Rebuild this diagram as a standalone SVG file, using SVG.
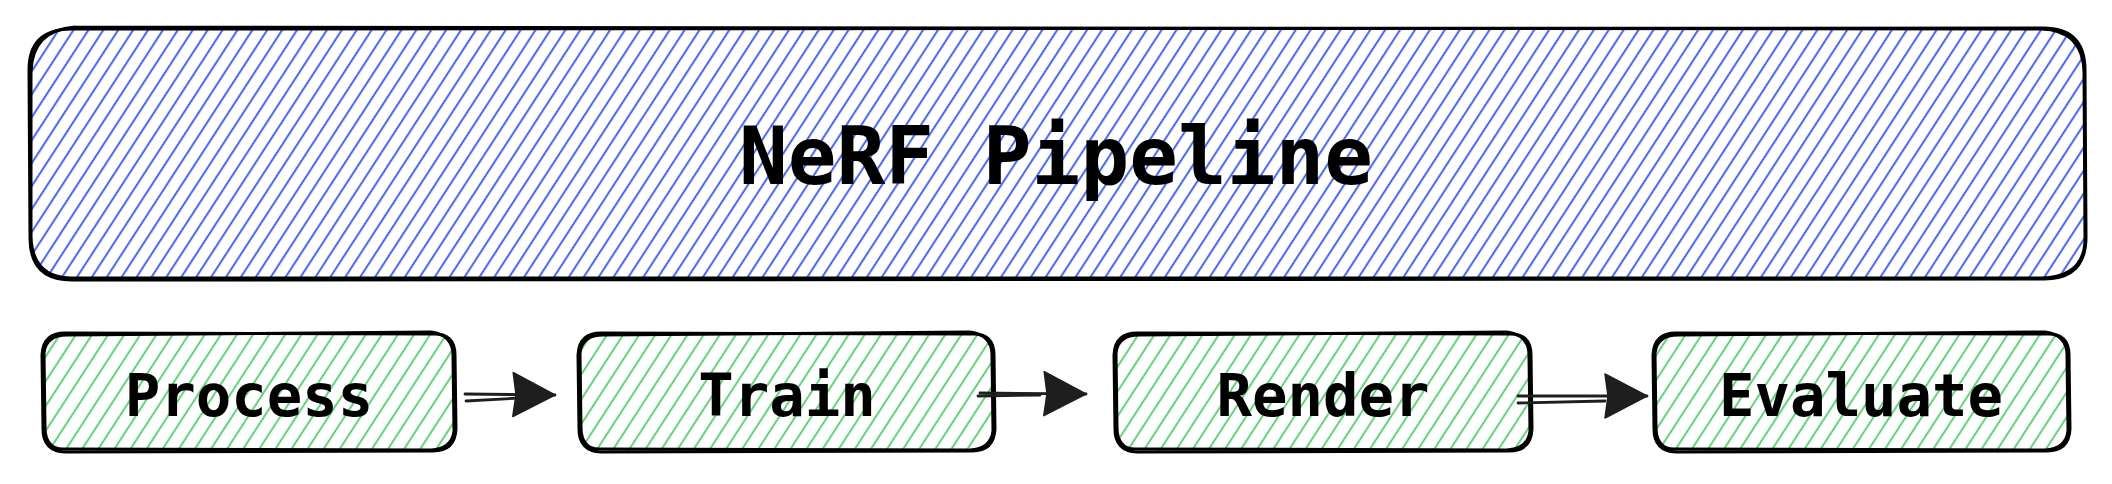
<svg xmlns="http://www.w3.org/2000/svg" width="2112" height="484" viewBox="0 0 2112 484">
<defs>
<pattern id="blueHatch" patternUnits="userSpaceOnUse" width="12.5" height="12.5" patternTransform="rotate(33)">
<line x1="3" y1="-1" x2="3" y2="14" stroke="#4466ee" stroke-width="2"/>
</pattern>
<pattern id="greenHatch" patternUnits="userSpaceOnUse" width="13.5" height="13.5" patternTransform="rotate(33)">
<line x1="3" y1="-1" x2="3" y2="15" stroke="#5cd070" stroke-width="1.9"/>
</pattern>
<marker id="head" markerUnits="userSpaceOnUse" markerWidth="48" markerHeight="50" refX="43" refY="23" orient="auto">
<path d="M1,1 L43,23 L1,45 L4,23 Z" fill="#1e1e1e" stroke="#1e1e1e" stroke-width="1.5" stroke-linejoin="round"/>
</marker>
</defs>
<style>
.edge{fill:none;stroke:#000;stroke-width:3;stroke-linecap:round;stroke-linejoin:round}
.blue{fill:url(#blueHatch)}
.green{fill:url(#greenHatch)}
.t{font-family:"DejaVu Sans Mono","Liberation Mono",monospace;font-weight:bold;fill:#000;text-anchor:middle}
.big{font-size:81px}
.small{font-size:59px}
.line{fill:none;stroke:#1e1e1e;stroke-width:2.8;stroke-linecap:round}
</style>
<rect width="2112" height="484" fill="#ffffff"/>
<g id="nerf-pipeline">
<rect class="blue" x="30" y="29" width="2055" height="250" rx="42"/>
<path class="edge" d="M72,29 L2043,28 Q2085,28 2085,70 L2086,237 Q2086,279 2044,279 L72,280 Q30,280 30,238 L29,70 Q29,29 72,29 Z"/>
<path class="edge" d="M75,27 L2041,29 Q2083,30 2084,72 L2085,240 Q2084,277 2042,278 L70,278 Q32,277 31,236 L31,72 Q32,30 75,27"/>
<text class="t big" x="1056" y="184">NeRF Pipeline</text>
</g>
<g id="process">
<rect class="green" x="43" y="333" width="412" height="118" rx="22"/>
<path class="edge" d="M65,333 L433,334 Q455,333 455,355 L456,429 Q455,451 433,451 L65,452 Q43,451 43,429 L42,355 Q43,333 65,333 Z"/>
<path class="edge" d="M67,335 L431,332 Q454,335 453,357 L454,431 Q452,449 431,450 L63,449 Q45,449 45,427 L44,353 Q46,335 67,335 Z"/>
<text class="t small" x="249" y="416">Process</text>
</g>
<g id="train">
<rect class="green" x="579" y="333" width="415" height="118" rx="22"/>
<path class="edge" d="M601,333 L972,334 Q994,333 994,355 L995,429 Q994,451 972,451 L601,452 Q579,451 579,429 L578,355 Q579,333 601,333 Z"/>
<path class="edge" d="M603,335 L970,332 Q993,335 992,357 L993,431 Q991,449 970,450 L599,449 Q581,449 581,427 L580,353 Q582,335 603,335 Z"/>
<text class="t small" x="787" y="416">Train</text>
</g>
<g id="render">
<rect class="green" x="1115" y="333" width="416" height="118" rx="22"/>
<path class="edge" d="M1137,333 L1509,334 Q1531,333 1531,355 L1532,429 Q1531,451 1509,451 L1137,452 Q1115,451 1115,429 L1114,355 Q1115,333 1137,333 Z"/>
<path class="edge" d="M1139,335 L1507,332 Q1530,335 1529,357 L1530,431 Q1528,449 1507,450 L1135,449 Q1117,449 1117,427 L1116,353 Q1118,335 1139,335 Z"/>
<text class="t small" x="1323" y="416">Render</text>
</g>
<g id="evaluate">
<rect class="green" x="1654" y="333" width="415" height="118" rx="22"/>
<path class="edge" d="M1676,333 L2047,334 Q2069,333 2069,355 L2070,429 Q2069,451 2047,451 L1676,452 Q1654,451 1654,429 L1653,355 Q1654,333 1676,333 Z"/>
<path class="edge" d="M1678,335 L2045,332 Q2068,335 2067,357 L2068,431 Q2066,449 2045,450 L1674,449 Q1656,449 1656,427 L1655,353 Q1657,335 1678,335 Z"/>
<text class="t small" x="1861" y="416">Evaluate</text>
</g>
<g id="connectors">
<path class="line" d="M466,401 L520,398"/>
<path class="line" d="M465,394 L555,395" marker-end="url(#head)"/>
<path class="line" d="M978,396 L1040,395"/>
<path class="line" d="M980,393 L1086,394" marker-end="url(#head)"/>
<path class="line" d="M1518,403 L1605,401"/>
<path class="line" d="M1518,396 L1647,396" marker-end="url(#head)"/>
</g>
</svg>
